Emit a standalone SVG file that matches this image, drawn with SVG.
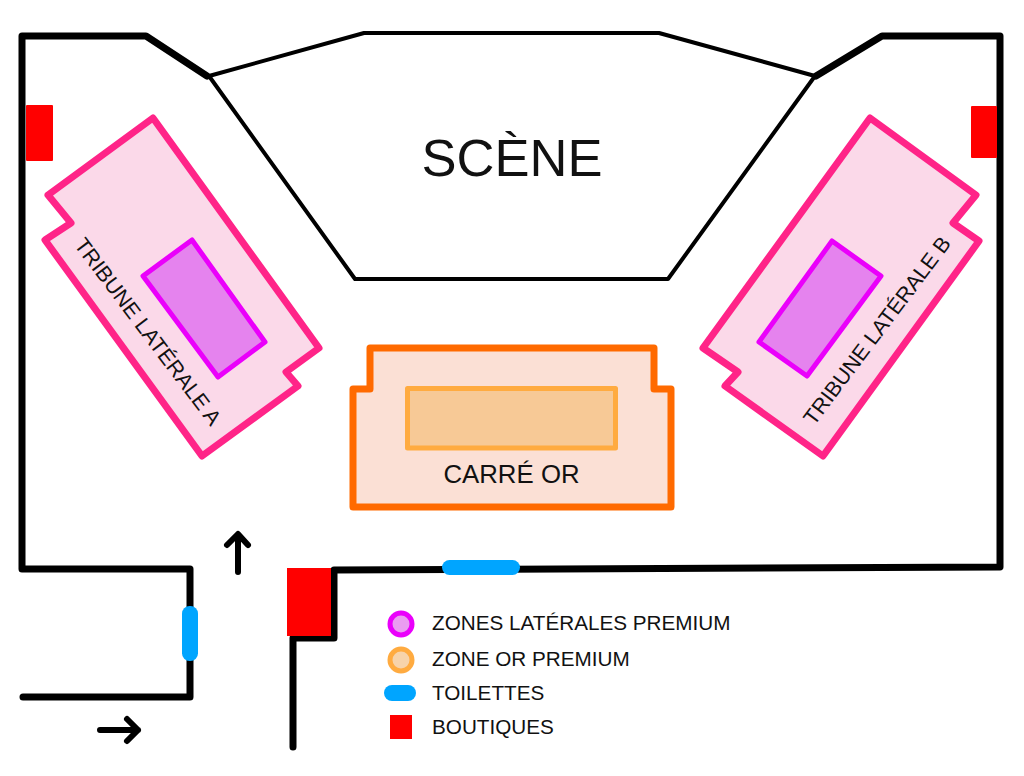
<svg xmlns="http://www.w3.org/2000/svg" width="1024" height="776" viewBox="0 0 1024 776">
<style>
text{font-family:"Liberation Sans",Arial,sans-serif;fill:#111}
.wall{fill:none;stroke:#000;stroke-width:7;stroke-linejoin:round;stroke-linecap:round}
.arrow{fill:none;stroke:#000;stroke-width:6;stroke-linejoin:round;stroke-linecap:round}
.trib{fill:#fbd9e9;stroke:#ff2488;stroke-width:7;stroke-linejoin:round}
.lat{fill:#e583ee;stroke:#ea00fb;stroke-width:5;stroke-linejoin:round}
.or{fill:#f7c996;stroke:#ffab40;stroke-width:5;stroke-linejoin:round}
.shop{fill:#ff0000}
.wc{fill:#00a5ff}
.leg{font-size:20.7px}
</style>
<rect width="1024" height="776" fill="#fff"/>
<g id="walls">
<path class="wall" d="M23 697H190V569H22V36H146L207 76"/>
<path class="wall" d="M293 747V638H334V570L1000 567V36H882L816 76"/>
</g>
<g id="scene">
<path d="M209 76L364 33H659L815 76L668 279H355Z" fill="#fff" stroke="#000" stroke-width="4" stroke-linejoin="round"/>
<text x="512" y="176" font-size="52.5" text-anchor="middle">SCÈNE</text>
</g>
<g id="tribune-a">
<path class="trib" d="M153 118L319 348L286 372L298 386L202 456L45 240L71 223L48 195Z"/>
<path class="lat" d="M192 240L265 342L218 377L143 276Z"/>
<text transform="translate(142 336) rotate(53)" font-size="21.5" text-anchor="middle">TRIBUNE LATÉRALE A</text>
</g>
<g id="tribune-b">
<path class="trib" d="M870 118L976 195L953 223L979 241L823 456L725 386L738 372L703 348Z"/>
<path class="lat" d="M832 241L881 276L807 376L759 342Z"/>
<text transform="translate(883 335) rotate(-53)" font-size="21.5" text-anchor="middle">TRIBUNE LATÉRALE B</text>
</g>
<g id="carre-or">
<path d="M370 348H654V389H671V507H353V389H370Z" fill="#fbe0d5" stroke="#ff6a00" stroke-width="7" stroke-linejoin="round"/>
<rect class="or" x="407.500" y="388.500" width="208" height="59.500"/>
<text x="511.500" y="483" font-size="25.800" text-anchor="middle">CARRÉ OR</text>
</g>
<g id="boutiques">
<rect class="shop" x="26" y="105" width="27" height="56" rx="1"/>
<rect class="shop" x="971" y="106" width="26" height="52" rx="1"/>
<rect class="shop" x="287" y="568" width="44" height="68"/>
</g>
<g id="toilettes">
<rect class="wc" x="182" y="606" width="16" height="55" rx="7.500"/>
<rect class="wc" x="442" y="560" width="78" height="15" rx="7.500"/>
</g>
<g id="connectors">
<path class="arrow" d="M238 572V535M227 545L238 534L248 545"/>
<path class="arrow" d="M100 730H138M127 719L138 730L127 741"/>
</g>
<g id="legende">
<circle cx="401" cy="624" r="11" fill="#e583ee" fill-opacity=".8" stroke="#ea00fb" stroke-width="5"/>
<circle cx="401" cy="660" r="11" fill="#f7d3aa" stroke="#ffab40" stroke-width="5"/>
<rect class="wc" x="384" y="685" width="32" height="16" rx="8"/>
<rect class="shop" x="390" y="715" width="22" height="24"/>
<text class="leg" x="432" y="630">ZONES LATÉRALES PREMIUM</text>
<text class="leg" x="432" y="666">ZONE OR PREMIUM</text>
<text class="leg" x="432" y="700">TOILETTES</text>
<text class="leg" x="432" y="734">BOUTIQUES</text>
</g>
</svg>
